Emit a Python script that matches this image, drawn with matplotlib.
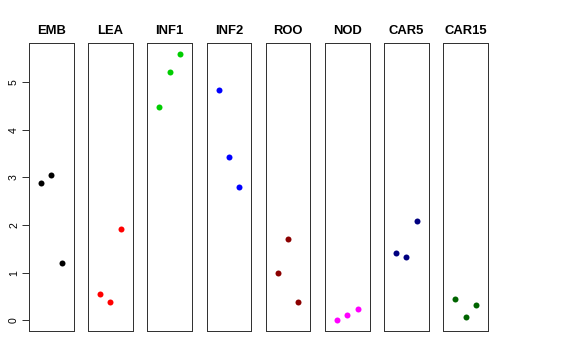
import matplotlib
matplotlib.use("Agg")
import matplotlib.pyplot as plt

plt.rcParams['font.family'] = ['Liberation Sans', 'DejaVu Sans']

tissues = ["EMB", "LEA", "INF1", "INF2", "ROO", "NOD", "CAR5", "CAR15"]
colors = ["black", "red", "#00CD00", "blue", "#8B0000", "magenta", "#000080", "#006400"]
reps = [1, 2, 3]
emb = [2.88, 3.05, 1.21]
lea = [0.55, 0.38, 1.92]
inf1 = [4.47, 5.21, 5.60]
inf2 = [4.84, 3.42, 2.81]
roo = [1.00, 1.71, 0.38]
nod = [0.01, 0.12, 0.24]
car5 = [1.41, 1.32, 2.09]
car15 = [0.44, 0.07, 0.32]
values = [emb, lea, inf1, inf2, roo, nod, car5, car15]

W, H = 576, 360
fig = plt.figure(figsize=(W / 72, H / 72), dpi=72)

ymax = max(max(v) for v in values)
ypad = 0.04 * ymax

for i, (name, col, vals) in enumerate(zip(tissues, colors, values)):
    left = 29 + 59.2 * i
    ax = fig.add_axes([left / W, 1 - 331 / H, 44.5 / W, (331 - 43) / H])
    ax.plot(reps, vals, 'o', color=col, markersize=6, markeredgewidth=0)
    ax.set_xlim(-0.16, 4.16)
    ax.set_ylim(-ypad, ymax + ypad)
    ax.set_title(name, fontsize=13, fontweight='bold', pad=9)
    ax.set_xticks([])
    for s in ax.spines.values():
        s.set_color('#333333')
        s.set_linewidth(1)
    if i == 0:
        ax.set_yticks(range(0, 6))
        ax.tick_params(axis='y', length=7, width=1, color='#333333', labelsize=10.5, pad=3)
        for lab in ax.get_yticklabels():
            lab.set_rotation(90)
            lab.set_va('center')
    else:
        ax.set_yticks([])

fig.savefig("out.png", dpi=72)
